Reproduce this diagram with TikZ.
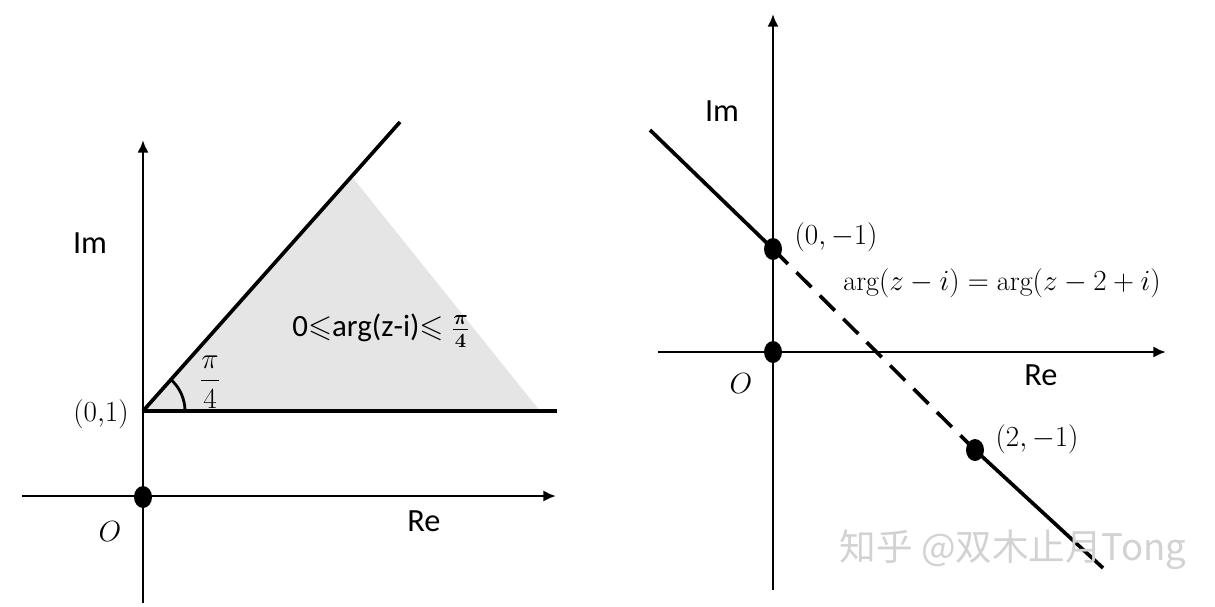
\documentclass[tikz,border=0pt]{standalone}
\usepackage{amsmath}
\usepackage{amssymb}
\usepackage{fontspec}
\newfontfamily\labelfont{Carlito}
\newfontfamily\markfont{Noto Sans CJK SC}
\usetikzlibrary{
    arrows.meta,
    calc
}
\tikzset{
    axis/.style={line width=2pt, -{Latex[length=9pt,width=8pt]}},
    locus/.style={line width=2.6pt},
    dotpt/.style={fill=black},
    sanslabel/.style={font=\labelfont\fontsize{23}{27}\selectfont},
    mathlabel/.style={font=\fontsize{20}{24}\selectfont}
}

\begin{document}
\begin{tikzpicture}[x=0.025cm, y=-0.025cm]
        \useasboundingbox (0,0) rectangle (1215,606);

        % left: the sector 0 <= arg(z-i) <= pi/4
        \coordinate (A) at (143,411);
        \coordinate (B) at (353,178);
        \coordinate (C) at (540,411);
        \coordinate (rayend) at (400,122);
        \coordinate (hend) at (557,411);
        \coordinate (O1) at (143,497);
        \fill[gray!20] (A) -- (B) -- (C) -- cycle;
        \draw[axis] (22,496) -- (556,496);
        \draw[axis] (143,603) -- (143,140);
        \draw[locus] (A) -- (hend);
        \draw[locus] (A) -- (rayend);
        \draw[line width=2pt] (A) ++(42,0) arc[start angle=0, end angle=-48, radius=42];
        \fill[dotpt] (O1) ellipse[x radius=9, y radius=11];
        \node[mathlabel] (lO) at (110,532) {$O$};
        \node[sanslabel] (lRe) at (424,521) {Re};
        \node[sanslabel] (lIm) at (90,243) {Im};
        \node[mathlabel] (lA) at (101,414) {$(0{,}1)$};
        \node[mathlabel] (lang) at (210,382) {$\displaystyle\frac{\pi}{4}$};
        \node[font=\labelfont\fontsize{22}{26}\selectfont] (lreg) at (381,331)
            {0$\leqslant$arg(z-i)$\leqslant\boldsymbol{\frac{\pi}{4}}$};

        % right: the line arg(z-i) = arg(z-2+i)
        \coordinate (P) at (773,249);
        \coordinate (O2) at (773,352);
        \coordinate (R) at (975,450);
        \coordinate (lstart) at (650,130);
        \coordinate (lend) at (1103,568);
        \draw[axis] (658,352) -- (1166,352);
        \draw[axis] (773,590) -- (773,14);
        \draw[locus] (lstart) -- (P);
        \draw[locus, dash pattern=on 15pt off 8.5pt] (P) -- (R);
        \draw[locus] (R) -- (lend);
        \foreach \p in {P, O2, R}
            \fill[dotpt] (\p) ellipse[x radius=9, y radius=11];
        \node[mathlabel] (lP) at (836,237) {$(0,-1)$};
        \node[mathlabel] (lR) at (1037,439) {$(2,-1)$};
        \node[mathlabel] (leq) at (1002,283) {$\arg(z-i)=\arg(z-2+i)$};
        \node[sanslabel] (lRe2) at (1041,375) {Re};
        \node[sanslabel] (lIm2) at (722,111) {Im};
        \node[mathlabel] (lO2) at (741,384) {$O$};
        \node[font=\markfont\fontsize{26}{30}\selectfont, text=gray!35] (mark) at (1013,550)
            {知乎 @双木止月Tong};
    \end{tikzpicture}
\end{document}
